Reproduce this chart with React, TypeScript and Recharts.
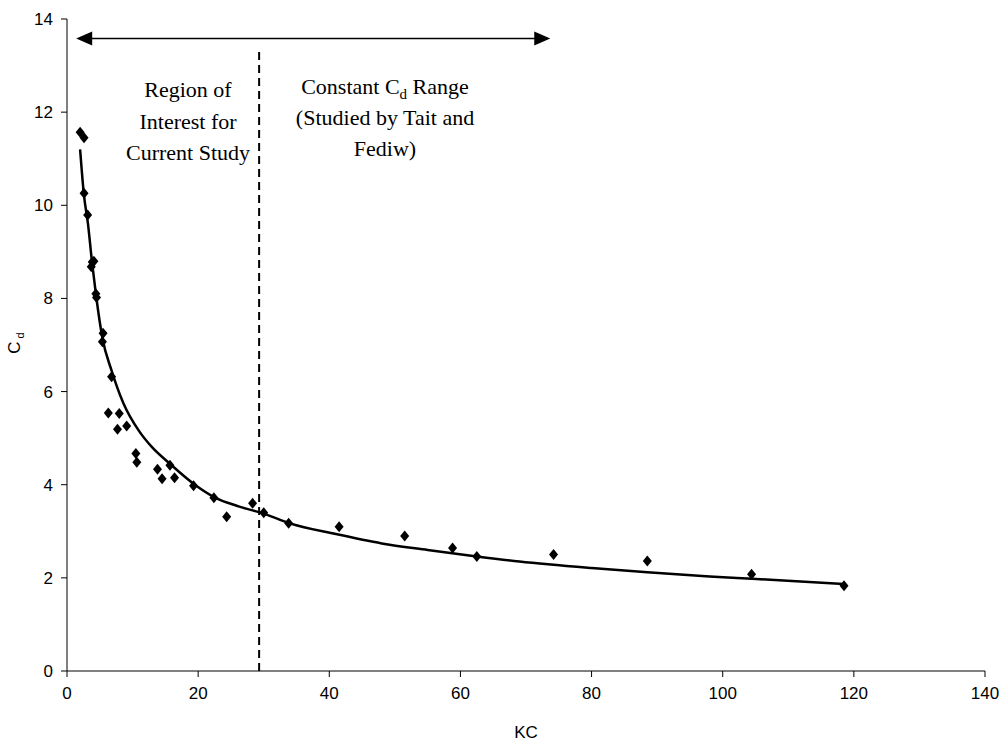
import React from 'react';
import {
  ComposedChart, Scatter, Line, XAxis, YAxis, ReferenceLine,
} from 'recharts';

// measured points (KC, Cd)
const kcValues = [
  2.0, 2.6, 2.6, 3.15, 3.7, 3.85, 4.1, 4.4, 4.5, 5.4, 5.5, 6.8,
  6.3, 7.97, 7.7, 9.1, 10.5, 10.65, 13.8, 14.5, 15.7, 16.4, 19.3,
  22.4, 24.35, 28.3, 30.0, 33.8, 41.5, 51.5, 58.8, 62.5, 74.2, 88.5,
  104.4, 118.5,
];
const cdValues = [
  11.57, 11.45, 10.26, 9.79, 8.68, 8.78, 8.8, 8.1, 8.02, 7.07, 7.25, 6.32,
  5.54, 5.53, 5.19, 5.26, 4.67, 4.48, 4.33, 4.13, 4.42, 4.15, 3.98,
  3.72, 3.31, 3.6, 3.4, 3.17, 3.1, 2.9, 2.64, 2.46, 2.5, 2.36,
  2.08, 1.83,
];

// trendline
const fitKc = [
  2, 2.6, 3.2, 3.8, 4.4, 5.4, 6.8, 8.6, 11, 13, 15.7, 19.5, 22.5, 26.3,
  30, 34, 41, 48, 55, 62.5, 69, 80, 88.5, 98, 104.5, 118.5,
];
const fitCd = [
  11.2, 10.2, 9.6, 8.8, 8.1, 7.15, 6.45, 5.75, 5.15, 4.8, 4.45, 4.0, 3.73, 3.53,
  3.38, 3.17, 2.94, 2.74, 2.6, 2.46, 2.35, 2.21, 2.12, 2.03, 1.98, 1.87,
];

const xTicks = [0, 20, 40, 60, 80, 100, 120, 140];
const yTicks = [0, 2, 4, 6, 8, 10, 12, 14];

const boundaryKc = 29.3;
const arrowCd = 13.58;
const arrowFrom = 1.4;
const arrowTo = 73.7;

const points = kcValues.map((x, i) => ({ x, y: cdValues[i] }));
const fit = fitKc.map((x, i) => ({ x, y: fitCd[i] }));

const Diamond = (props: any) => {
  const { cx, cy } = props;
  if (cx == null || cy == null) return null;
  return (
    <polygon
      points={`${cx},${cy - 5.5} ${cx + 4.5},${cy} ${cx},${cy + 5.5} ${cx - 4.5},${cy}`}
      fill="#000"
    />
  );
};

const DoubleArrow = (props: any) => {
  const { x1, y1, x2, y2 } = props;
  if (x1 == null) return null;
  const ax = Math.min(x1, x2);
  const bx = Math.max(x1, x2);
  return (
    <g>
      <line x1={ax + 10} y1={y1} x2={bx - 10} y2={y2} stroke="#000" strokeWidth={1.5} />
      <polygon points={`${ax},${y1} ${ax + 16},${y1 - 7} ${ax + 16},${y1 + 7}`} fill="#000" />
      <polygon points={`${bx},${y2} ${bx - 16},${y2 - 7} ${bx - 16},${y2 + 7}`} fill="#000" />
    </g>
  );
};

const sans = '"Liberation Sans", Arial, sans-serif';
const serif = '"Liberation Serif", "Times New Roman", serif';
const tickStyle = { fontFamily: sans, fontSize: 17, fill: '#000' };

export default function App() {
  return (
    <div style={{ position: 'relative', width: 1006, height: 745, background: '#fff' }}>
      <style>{'body{margin:0;}'}</style>
      <ComposedChart
        width={1006}
        height={745}
        margin={{ top: 19, right: 21, bottom: 34, left: 7 }}
      >
        <XAxis
          type="number"
          dataKey="x"
          domain={[0, 140]}
          ticks={xTicks}
          height={40}
          tickSize={6}
          tickMargin={10}
          tick={tickStyle}
          stroke="#000"
          allowDataOverflow
        />
        <YAxis
          type="number"
          dataKey="y"
          domain={[0, 14]}
          ticks={yTicks}
          width={60}
          tickSize={6}
          tickMargin={8}
          tick={tickStyle}
          stroke="#000"
          allowDataOverflow
        />
        <ReferenceLine
          segment={[{ x: boundaryKc, y: 0 }, { x: boundaryKc, y: 13.3 }]}
          stroke="#000"
          strokeWidth={2}
          strokeDasharray="8 5"
        />
        <ReferenceLine
          segment={[{ x: arrowFrom, y: arrowCd }, { x: arrowTo, y: arrowCd }]}
          shape={DoubleArrow}
        />
        <Line
          data={fit}
          dataKey="y"
          type="monotone"
          stroke="#000"
          strokeWidth={2.5}
          dot={false}
          activeDot={false}
          isAnimationActive={false}
        />
        <Scatter data={points} dataKey="y" shape={Diamond} isAnimationActive={false} />
      </ComposedChart>

      <div style={{
        position: 'absolute', left: 100, top: 74, width: 176, textAlign: 'center',
        fontFamily: serif, fontSize: 22, lineHeight: '31.5px', color: '#000',
      }}>
        Region of<br />Interest for<br />Current Study
      </div>
      <div style={{
        position: 'absolute', left: 265, top: 71, width: 240, textAlign: 'center',
        fontFamily: serif, fontSize: 22, lineHeight: '31px', color: '#000',
      }}>
        Constant C<sub style={{ fontSize: 15, lineHeight: 0 }}>d</sub> Range<br />(Studied by Tait and<br />Fediw)
      </div>
      <div style={{
        position: 'absolute', left: 476, top: 723, width: 100, textAlign: 'center',
        fontFamily: sans, fontSize: 17, lineHeight: '20px', color: '#000',
      }}>
        KC
      </div>
      <div style={{
        position: 'absolute', left: -10, top: 333, width: 50, textAlign: 'center',
        transform: 'rotate(-90deg)', fontFamily: sans,
        fontSize: 17, lineHeight: '20px', color: '#000',
      }}>
        C<sub style={{ fontSize: 11, lineHeight: 0 }}> d</sub>
      </div>
    </div>
  );
}
